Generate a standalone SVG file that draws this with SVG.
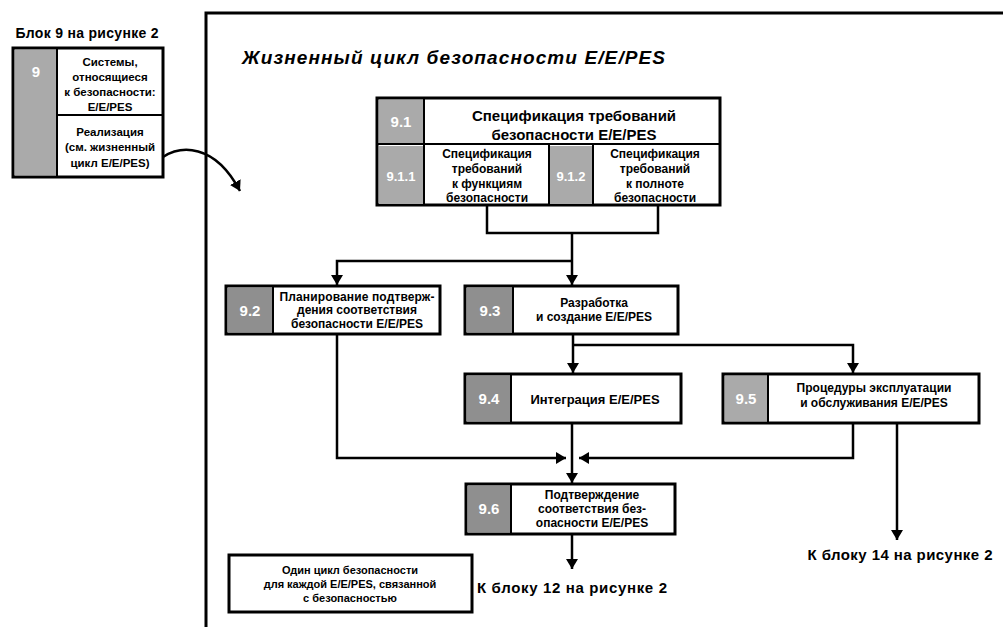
<svg xmlns="http://www.w3.org/2000/svg" width="1003" height="627" viewBox="0 0 1003 627">
<defs>
<style>
text{font-family:"Liberation Sans",Arial,sans-serif;font-weight:bold;fill:#000}
.t{font-size:14px;text-anchor:middle}
.s{font-size:12px;text-anchor:middle}
.h{font-size:15px;text-anchor:middle}
.num{font-size:15px;text-anchor:middle;fill:#fff}
.box{fill:#fff;stroke:#000;stroke-width:3}
.div{stroke:#000;stroke-width:2;fill:none}
.g1{fill:#8f8f8f}
.g2{fill:#aaaaaa}
.ln{fill:none;stroke:#000;stroke-width:2.5}
</style>
<marker id="ah" markerUnits="userSpaceOnUse" markerWidth="10" markerHeight="12" refX="10" refY="6" orient="auto">
<path d="M0,0 L10,6 L0,12 z" fill="#000"/>
</marker>
</defs>
<rect width="1003" height="627" fill="#fff"/>

<g id="frame">
<path d="M206,627 V13 H1003" fill="none" stroke="#000" stroke-width="3"/>
<text x="242" y="64" style="font-size:19px;font-style:italic" textLength="423">Жизненный цикл безопасности E/E/PES</text>
</g>

<g id="block9">
<text x="87" y="38" class="t" textLength="143">Блок 9 на рисунке 2</text>
<rect x="13" y="48" width="150" height="129" class="box"/>
<rect x="15" y="50" width="42" height="125" class="g2"/>
<line x1="57" y1="48" x2="57" y2="177" class="div"/>
<line x1="57" y1="115" x2="163" y2="115" class="div"/>
<text x="36" y="77" class="num">9</text>
<text x="110" y="66" class="s" style="font-size:11.5px">Системы,</text>
<text x="110" y="81" class="s" style="font-size:11.5px">относящиеся</text>
<text x="110" y="96" class="s" style="font-size:11.5px">к безопасности:</text>
<text x="110" y="111" class="s" style="font-size:11.5px">E/E/PES</text>
<text x="110" y="136" class="s" style="font-size:11.5px">Реализация</text>
<text x="110" y="151" class="s" style="font-size:11.5px">(см. жизненный</text>
<text x="110" y="167" class="s" style="font-size:11.5px">цикл E/E/PES)</text>
</g>

<g id="n91">
<rect x="377" y="98" width="343" height="107" class="box"/>
<rect x="379" y="100" width="44" height="43" class="g2"/>
<rect x="379" y="146" width="44" height="58" class="g2"/>
<rect x="550" y="146" width="42" height="58" class="g2"/>
<line x1="377" y1="144" x2="720" y2="144" class="div"/>
<line x1="424" y1="98" x2="424" y2="205" class="div"/>
<line x1="549" y1="144" x2="549" y2="205" class="div"/>
<line x1="593" y1="144" x2="593" y2="205" class="div"/>
<text x="401" y="127" class="num">9.1</text>
<text x="574" y="121" class="h">Спецификация требований</text>
<text x="574" y="140" class="h">безопасности E/E/PES</text>
<text x="401" y="181" class="num" style="font-size:13px">9.1.1</text>
<text x="487" y="158" class="s">Спецификация</text>
<text x="487" y="173" class="s">требований</text>
<text x="487" y="188" class="s">к функциям</text>
<text x="487" y="202" class="s">безопасности</text>
<text x="571" y="181" class="num" style="font-size:13px">9.1.2</text>
<text x="655" y="158" class="s">Спецификация</text>
<text x="655" y="173" class="s">требований</text>
<text x="655" y="188" class="s">к полноте</text>
<text x="655" y="202" class="s">безопасности</text>
</g>

<g id="n92">
<rect x="226" y="286" width="214" height="48" class="box"/>
<rect x="228" y="288" width="44" height="44" class="g1"/>
<line x1="273" y1="286" x2="273" y2="334" class="div"/>
<text x="250" y="316" class="num">9.2</text>
<text x="357" y="301" class="s" textLength="155">Планирование подтверж-</text>
<text x="357" y="314" class="s">дения соответствия</text>
<text x="357" y="328" class="s">безопасности E/E/PES</text>
</g>

<g id="n93">
<rect x="465" y="286" width="213" height="48" class="box"/>
<rect x="467" y="288" width="45" height="44" class="g1"/>
<line x1="513" y1="286" x2="513" y2="334" class="div"/>
<text x="490" y="316" class="num">9.3</text>
<text x="594" y="307" class="s">Разработка</text>
<text x="594" y="321" class="s">и создание E/E/PES</text>
</g>

<g id="n94">
<rect x="465" y="374" width="216" height="49" class="box"/>
<rect x="467" y="376" width="43" height="45" class="g1"/>
<line x1="511" y1="374" x2="511" y2="423" class="div"/>
<text x="489" y="404" class="num">9.4</text>
<text x="595" y="404" class="s" style="font-size:13px">Интеграция E/E/PES</text>
</g>

<g id="n95">
<rect x="723" y="374" width="256" height="49" class="box"/>
<rect x="725" y="376" width="42" height="45" class="g2"/>
<line x1="768" y1="374" x2="768" y2="423" class="div"/>
<text x="746" y="404" class="num">9.5</text>
<text x="874" y="392" class="s" textLength="155">Процедуры эксплуатации</text>
<text x="874" y="407" class="s">и обслуживания E/E/PES</text>
</g>

<g id="n96">
<rect x="466" y="484" width="209" height="50" class="box"/>
<rect x="468" y="486" width="42" height="46" class="g1"/>
<line x1="511" y1="484" x2="511" y2="534" class="div"/>
<text x="489" y="514" class="num">9.6</text>
<text x="592" y="499" class="s">Подтверждение</text>
<text x="592" y="513" class="s">соответствия без-</text>
<text x="592" y="527" class="s">опасности E/E/PES</text>
</g>

<g id="note">
<rect x="229" y="555" width="243" height="57" class="box"/>
<text x="350" y="574" class="s" style="font-size:11px">Один цикл безопасности</text>
<text x="350" y="588" class="s" style="font-size:11px">для каждой E/E/PES, связанной</text>
<text x="350" y="602" class="s" style="font-size:11px">с безопасностью</text>
</g>

<g id="connectors">
<path d="M163,157 C180,146 214,142 240,191" class="ln" marker-end="url(#ah)"/>
<path d="M487,205 V233 H658 V205" class="ln"/>
<path d="M572,233 V285" class="ln" marker-end="url(#ah)"/>
<path d="M572,261 H337 V285" class="ln" marker-end="url(#ah)"/>
<path d="M573,334 V373" class="ln" marker-end="url(#ah)"/>
<path d="M573,345 H853 V373" class="ln" marker-end="url(#ah)"/>
<path d="M337,334 V458 H566" class="ln" marker-end="url(#ah)"/>
<path d="M853,423 V458 H579" class="ln" marker-end="url(#ah)"/>
<path d="M572,423 V483" class="ln" marker-end="url(#ah)"/>
<path d="M897,423 V540" class="ln" marker-end="url(#ah)"/>
<path d="M572,534 V569" class="ln" marker-end="url(#ah)"/>
</g>

<g id="labels">
<text x="572" y="593" class="h" textLength="190">К блоку 12 на рисунке 2</text>
<text x="900" y="560" class="h" textLength="185">К блоку 14 на рисунке 2</text>
</g>
</svg>
